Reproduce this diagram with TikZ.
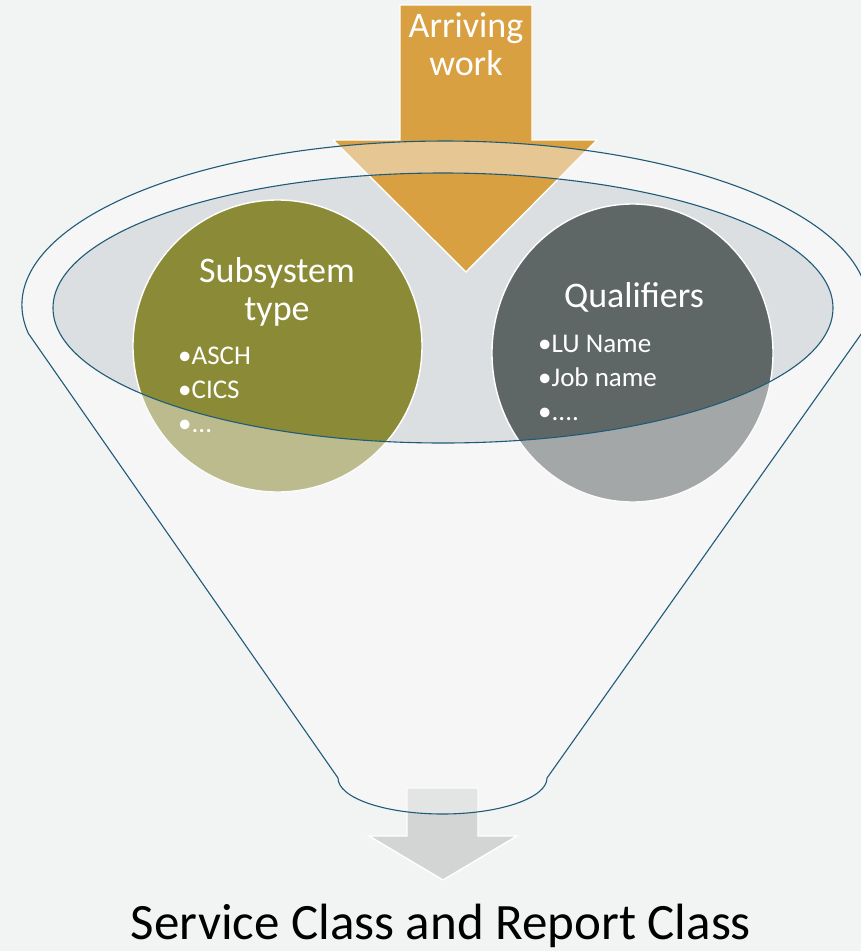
\documentclass[tikz,border=0pt]{standalone}
\usepackage{fontspec}
\setmainfont{Carlito}
\definecolor{pagebg}{HTML}{F2F3F3}
\definecolor{funnelfill}{HTML}{F6F6F6}
\definecolor{mouthfill}{HTML}{DCDFE1}
\definecolor{rimline}{HTML}{1F5B78}
\definecolor{olive}{HTML}{8B8B37}
\definecolor{slate}{HTML}{5F6766}
\definecolor{amber}{HTML}{D9A042}
\definecolor{outgrey}{HTML}{D3D5D5}
\tikzset{
  shapeedge/.style={draw=white, line width=1.4pt},
  rim/.style={draw=rimline, line width=1.1pt},
  headtext/.style={text=white, font=\fontsize{36}{38}\selectfont, inner sep=0pt, align=center},
  listtext/.style={text=white, font=\fontsize{27}{34}\selectfont, inner sep=0pt, align=left},
}
% outline of the funnel: upper rim arc, the two sides and the spout
\def\funnelpath{(28.4,-333.5) arc[start angle=190, end angle=-10, x radius=423, y radius=164]
  -- (547,-778) arc[start angle=0, end angle=-180, x radius=104.5, y radius=36] -- cycle}
\def\mouthpath{(443,-308) ellipse[x radius=390, y radius=135]}
\begin{document}
\begin{tikzpicture}[x=1pt,y=1pt]
  \fill[pagebg] (0,0) rectangle (861,-951);
  \useasboundingbox (0,0) rectangle (861,-951);

  % funnel body and its opening
  \fill[funnelfill] \funnelpath;
  \fill[mouthfill] \mouthpath;

  % arriving work arrow
  \path[fill=amber, shapeedge] (400,-5) -- (532,-5) -- (532,-140) -- (597,-140)
    -- (466,-272) -- (333,-140) -- (400,-140) -- cycle;

  % the two classification circles
  \path[fill=olive, shapeedge] (277.5,-346) ellipse[x radius=144.5, y radius=146];
  \path[fill=slate, shapeedge] (632.5,-353) ellipse[x radius=140.5, y radius=149];

  % outgoing arrow below the spout
  \path[fill=outgrey, shapeedge] (407,-788) -- (478,-788) -- (478,-836) -- (517,-836)
    -- (443,-880) -- (369,-836) -- (407,-836) -- cycle;

  % translucent funnel wall over everything except the opening
  \fill[white!97!black, fill opacity=0.45, even odd rule] \funnelpath \mouthpath;

  % funnel outlines
  \draw[rim] \funnelpath;
  \draw[rim] \mouthpath;

  % labels (base anchors sit on the last line of each block)
  \node[headtext, anchor=base] (arriving) at (466,-75) {Arriving\\work};
  \node[headtext, anchor=base] (subsystem) at (277,-320) {Subsystem\\type};
  \node[headtext, anchor=base] (qualifiers) at (634,-307) {Qualifiers};
  \node[listtext, anchor=base west] (subsyslist) at (178,-432) {•ASCH\\•CICS\\•...};
  \node[listtext, anchor=base west] (qualist) at (538,-420) {•LU Name\\•Job name\\•....};
  \node[inner sep=0pt, anchor=base, font=\fontsize{51}{58}\selectfont] (result) at (441,-939)
    {Service Class and Report Class};
\end{tikzpicture}
\end{document}
